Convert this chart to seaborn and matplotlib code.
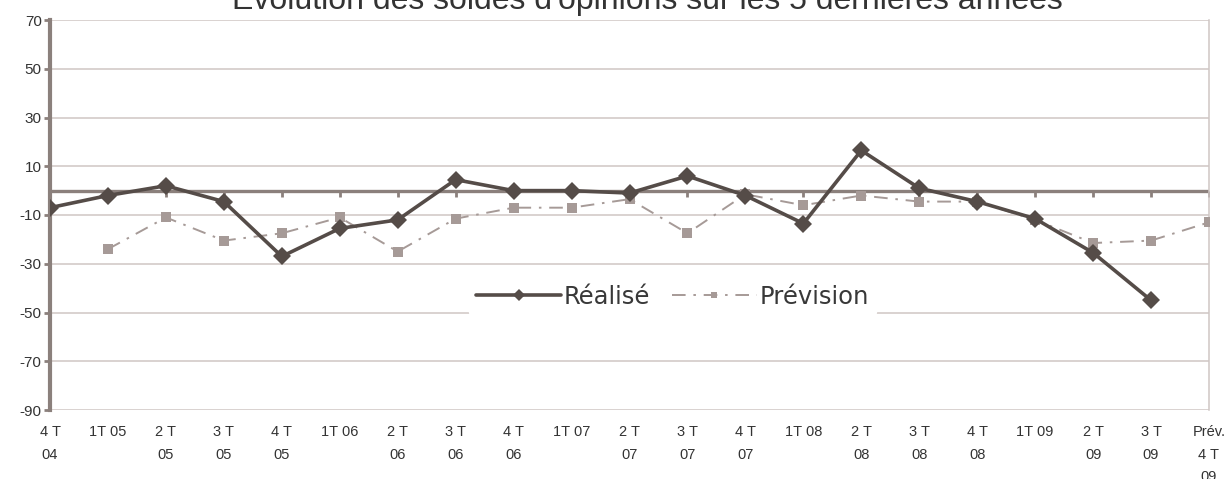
import numpy as np
import pandas as pd
import matplotlib
matplotlib.use("Agg")
import matplotlib.pyplot as plt
import seaborn as sns

# quarters on the category axis
quarters = ["4 T\n04", "1T 05", "2 T\n05", "3 T\n05", "4 T\n05", "1T 06",
            "2 T\n06", "3 T\n06", "4 T\n06", "1T 07", "2 T\n07", "3 T\n07",
            "4 T\n07", "1T 08", "2 T\n08", "3 T\n08", "4 T\n08", "1T 09",
            "2 T\n09", "3 T\n09", "Prév.\n4 T\n09"]
# balances
realise = [-7, -2, 2, -4.5, -27, -15.5, -12, 4.5, 0, 0, -1, 6,
           -2, -13.5, 16.5, 1, -4.5, -11.5, -25.5, -45, np.nan]
prevision = [np.nan, -24, -11, -20.5, -17.5, -11, -25, -11.5, -7, -7, -3.5, -17.5,
             -1.5, -6, -2, -4.5, -4.5, -12, -21.5, -20.5, -13]
yticks = [70, 50, 30, 10, -10, -30, -50, -70, -90]
title = "Evolution des soldes d'opinions sur les 5 dernières années"

sns.set_style("white")
plt.rcParams['font.family'] = ['Liberation Sans', 'DejaVu Sans']

df = pd.DataFrame({"pos": np.arange(len(quarters)),
                   "Réalisé": realise, "Prévision": prevision})

dark = "#554c48"
light = "#a69a97"
grid = "#cfc6c4"
axis_col = "#8b807c"

fig = plt.figure(figsize=(12.28, 4.79), dpi=100)
ax = fig.add_axes([50/1228, 1-410/479, 1159/1228, 390/479])

for y in yticks:
    ax.axhline(y, color=grid, lw=1.1, zorder=1)
ax.axhline(0, color=axis_col, lw=2.4, zorder=2)
ax.plot(df["pos"], np.zeros(len(df)), ls="none", marker=3, ms=4,
        mew=2, color=axis_col, zorder=2)

sns.lineplot(data=df, x="pos", y="Prévision", ax=ax, color=light, lw=1.4,
             linestyle=(0, (7, 4, 1.3, 4)), marker="s", ms=6.5, mew=0,
             label="Prévision", zorder=3)
sns.lineplot(data=df, x="pos", y="Réalisé", ax=ax, color=dark, lw=2.6,
             marker="D", ms=9.5, mew=0, label="Réalisé", zorder=4)

ax.set_xlim(0, len(quarters) - 1)
ax.set_ylim(-90, 70)
ax.set_yticks(yticks)
ax.set_yticklabels([str(v) for v in yticks])
ax.set_xticks(df["pos"])
ax.set_xticklabels(quarters, linespacing=1.75)
ax.set_xlabel("")
ax.set_ylabel("")

for side in ["top", "bottom"]:
    ax.spines[side].set_visible(False)
ax.spines["right"].set_color(grid)
ax.spines["right"].set_linewidth(1.1)
ax.spines["left"].set_color(axis_col)
ax.spines["left"].set_linewidth(3)

ax.tick_params(axis="y", left=True, length=4, width=2, color=axis_col,
               labelsize=11, labelcolor="#333333", pad=2)
ax.tick_params(axis="x", bottom=False, length=0, labelsize=10.5,
               labelcolor="#333333", pad=11)

h, l = ax.get_legend_handles_labels()
leg = ax.legend(h[::-1], l[::-1], loc="center", bbox_to_anchor=(0.537, 0.29),
                ncol=2, frameon=True, framealpha=1, edgecolor="white",
                facecolor="white", handlelength=3.5, handletextpad=0.1,
                columnspacing=0.9, markerscale=0.6, borderpad=0.3,
                prop={"family": "DejaVu Sans", "size": 17.5})
for t in leg.get_texts():
    t.set_color("#383838")
leg.set_zorder(5)

fig.text(0.527, 1 - 9/479, title, ha="center", va="baseline",
         fontsize=23, color="#333333")

fig.savefig("out.png", dpi=100)
